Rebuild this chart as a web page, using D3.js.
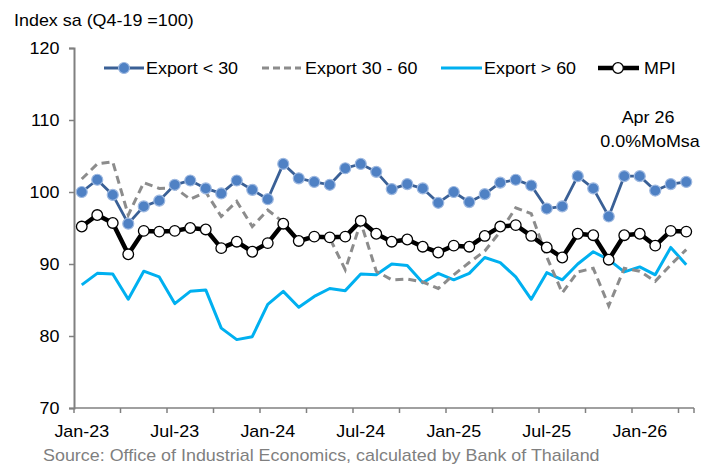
<!DOCTYPE html>
<html><head><meta charset="utf-8">
<script src="https://cdn.jsdelivr.net/npm/d3@7"></script>
<style>body{margin:0;background:#fff}svg{display:block}text{font-family:"Liberation Sans",Arial,sans-serif}</style>
</head><body>
<svg id="c" width="713" height="466"></svg>
<script>
const months = ["Jan-23","Feb-23","Mar-23","Apr-23","May-23","Jun-23","Jul-23","Aug-23","Sep-23","Oct-23","Nov-23","Dec-23",
"Jan-24","Feb-24","Mar-24","Apr-24","May-24","Jun-24","Jul-24","Aug-24","Sep-24","Oct-24","Nov-24","Dec-24",
"Jan-25","Feb-25","Mar-25","Apr-25","May-25","Jun-25","Jul-25","Aug-25","Sep-25","Oct-25","Nov-25","Dec-25",
"Jan-26","Feb-26","Mar-26","Apr-26"];
const exportLt30 = [100.0,101.7,99.6,95.6,98.0,98.8,101.0,101.6,100.5,99.8,101.6,100.3,
99.0,103.9,101.9,101.4,101.0,103.3,103.9,102.8,100.4,101.1,100.5,98.5,
100.0,98.6,99.7,101.3,101.7,100.9,97.7,98.0,102.2,100.5,96.6,102.2,
102.2,100.2,101.1,101.4];
const export30to60 = [101.8,103.9,104.2,96.8,101.3,100.5,100.6,99.0,100.0,96.6,98.7,95.2,
97.5,95.8,93.3,93.8,93.6,89.2,95.8,89.0,87.8,87.9,87.5,86.6,
88.5,90.2,91.8,94.5,97.8,97.0,91.0,86.0,88.9,89.4,84.2,89.4,
89.0,87.6,89.9,92.0];
const exportGt60 = [87.1,88.7,88.6,85.1,89.0,88.2,84.5,86.2,86.4,81.1,79.5,79.9,
84.4,86.2,84.0,85.5,86.6,86.3,88.6,88.5,90.0,89.8,87.4,88.7,
87.8,88.7,90.9,90.2,88.2,85.1,88.8,87.8,90.0,91.7,90.6,88.9,
89.6,88.5,92.3,89.9];
const mpi = [95.2,96.8,95.7,91.35,94.6,94.5,94.6,95.0,94.8,92.2,93.1,91.7,
92.9,95.6,93.2,93.8,93.7,93.8,96.0,94.2,93.1,93.4,92.4,91.6,
92.55,92.4,93.9,95.2,95.4,93.9,92.3,90.9,94.2,94.0,90.6,94.0,
94.2,92.55,94.6,94.5];
const yTicks = [70,80,90,100,110,120];
const xLabels = ["Jan-23","Jul-23","Jan-24","Jul-24","Jan-25","Jul-25","Jan-26"];

const SX = 1.12;
const svg = d3.select("#c");
const x = d3.scaleBand().domain(months).range([74, 694]).paddingInner(0).paddingOuter(0);
const y = d3.scaleLinear().domain([70,120]).range([408,48]);
const cx = d => x(d) + x.bandwidth()/2;

function txt(g, tx, ty, s, opts={}) {
  return g.append("text").attr("transform", `translate(${tx},${ty}) scale(${SX},1)`)
    .attr("font-size", opts.size||16).attr("fill", opts.fill||"#000")
    .attr("text-anchor", opts.anchor||"start").text(s);
}

// axes
const ya = svg.append("g").attr("transform","translate(74,0)")
  .call(d3.axisLeft(y).tickValues(yTicks).tickSize(5).tickPadding(8));
ya.select(".domain").attr("stroke","#808080").attr("stroke-width",2);
ya.selectAll(".tick line").attr("stroke","#808080").attr("stroke-width",1.5);
ya.selectAll(".tick text").attr("font-size",16).attr("fill","#000").attr("font-family","Liberation Sans, Arial, sans-serif")
  .attr("transform",`scale(${SX},1)`);

const tickCats = months.filter((m,i)=> i%3===0);
const xa = svg.append("g").attr("transform","translate(0,408)");
xa.append("line").attr("x1",74).attr("x2",694).attr("y1",0).attr("y2",0).attr("stroke","#808080").attr("stroke-width",1.5);
xa.selectAll("line.t").data(tickCats.concat(["__end"])).enter().append("line").attr("class","t")
  .attr("x1",d=> d==="__end"?694:x(d)).attr("x2",d=> d==="__end"?694:x(d))
  .attr("y1",0).attr("y2",5).attr("stroke","#808080").attr("stroke-width",1.5);
xLabels.forEach(l => txt(svg, cx(l), 437, l, {anchor:"middle"}));

// series
const line = d3.line().x((d,i)=>cx(months[i])).y(d=>y(d));
svg.append("path").datum(exportGt60).attr("d",line).attr("fill","none").attr("stroke","#00B0F0").attr("stroke-width",3).attr("stroke-linejoin","round");
svg.append("path").datum(export30to60).attr("d",line).attr("fill","none").attr("stroke","#8C8C8C").attr("stroke-width",3).attr("stroke-dasharray","8,5");
svg.append("path").datum(exportLt30).attr("d",line).attr("fill","none").attr("stroke","#3A6096").attr("stroke-width",2.8);
svg.selectAll("circle.b").data(exportLt30).enter().append("circle").attr("class","b")
  .attr("cx",(d,i)=>cx(months[i])).attr("cy",d=>y(d)).attr("r",5.5)
  .attr("fill","#4F81C4").attr("stroke","#9DB8E0").attr("stroke-width",1.2);
svg.append("path").datum(mpi).attr("d",line).attr("fill","none").attr("stroke","#000").attr("stroke-width",4.5).attr("stroke-linejoin","round");
svg.selectAll("circle.m").data(mpi).enter().append("circle").attr("class","m")
  .attr("cx",(d,i)=>cx(months[i])).attr("cy",d=>y(d)).attr("r",5.3)
  .attr("fill","#fff").attr("stroke","#000").attr("stroke-width",1.3);

// legend
const lg = svg.append("g");
const ly = 68;
lg.append("line").attr("x1",104).attr("x2",144).attr("y1",ly).attr("y2",ly).attr("stroke","#3A6096").attr("stroke-width",2.8);
lg.append("circle").attr("cx",124).attr("cy",ly).attr("r",5.5).attr("fill","#4F81C4").attr("stroke","#9DB8E0").attr("stroke-width",1.2);
txt(lg,146,ly+6,"Export < 30");
lg.append("line").attr("x1",262).attr("x2",301).attr("y1",ly).attr("y2",ly).attr("stroke","#8C8C8C").attr("stroke-width",3).attr("stroke-dasharray","7,4");
txt(lg,305,ly+6,"Export 30 - 60");
lg.append("line").attr("x1",441).attr("x2",482).attr("y1",ly).attr("y2",ly).attr("stroke","#00B0F0").attr("stroke-width",3);
txt(lg,484,ly+6,"Export > 60");
lg.append("line").attr("x1",598).attr("x2",639).attr("y1",ly).attr("y2",ly).attr("stroke","#000").attr("stroke-width",4.5);
lg.append("circle").attr("cx",618).attr("cy",ly).attr("r",5.3).attr("fill","#fff").attr("stroke","#000").attr("stroke-width",1.3);
txt(lg,644,ly+6,"MPI");

// texts
txt(svg,14,26,"Index sa (Q4-19 =100)");
txt(svg,648,123,"Apr 26",{anchor:"middle"});
txt(svg,650,147,"0.0%MoMsa",{anchor:"middle"});
txt(svg,43,461,"Source: Office of Industrial Economics, calculated by Bank of Thailand",{fill:"#7F7F7F"});
</script>
</body></html>
